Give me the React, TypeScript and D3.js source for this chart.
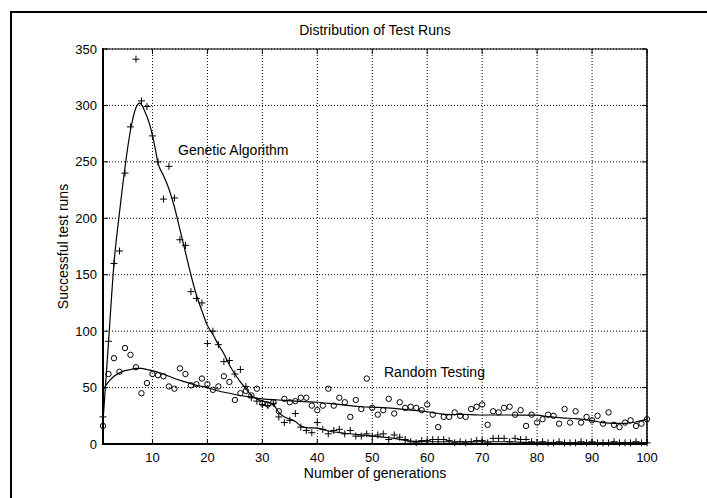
import React from "react";
import * as d3 from "d3";

const width = 707;
const height = 498;
const plot = { left: 103, right: 647, top: 49, bottom: 444 };
const font = "'Liberation Sans', Arial, sans-serif";

// successful test runs per generation (1..100)
const gaRuns = [
  24, 91, 160, 171, 240, 281, 341, 304, 299, 273,
  250, 217, 246, 218, 181, 176, 135, 129, 125, 89,
  100, 88, 73, 74, 62, 66, 51, 41, 38, 35,
  34, 36, 24, 19, 21, 27, 15, 12, 10, 19,
  13, 9, 12, 13, 9, 12, 7, 7, 9, 7,
  8, 9, 4, 8, 6, 4, 2, 1, 3, 3,
  4, 4, 4, 3, 1, 2, 1, 2, 3, 3,
  1, 5, 5, 5, 2, 5, 4, 4, 2, 1,
  2, 1, 1, 2, 1, 1, 1, 2, 1, 2,
  1, 1, 1, 2, 1, 1, 1, 2, 1, 1
];
const rtRuns = [
  16, 62, 76, 64, 85, 79, 68, 45, 54, 62,
  61, 60, 51, 49, 67, 62, 52, 53, 58, 53,
  48, 51, 60, 55, 39, 45, 47, 43, 49, 36,
  35, 37, 29, 40, 37, 38, 41, 41, 34, 30,
  34, 49, 34, 41, 37, 24, 39, 31, 58, 32,
  26, 30, 40, 27, 37, 32, 33, 32, 30, 35,
  26, 15, 24, 24, 28, 25, 24, 31, 33, 35,
  17, 29, 28, 32, 33, 26, 30, 16, 26, 19,
  22, 26, 25, 18, 31, 19, 29, 19, 24, 21,
  25, 18, 28, 17, 15, 19, 21, 16, 18, 22
];
const generations = d3.range(1, rtRuns.length + 1);

// fitted curves
const gaFitX = [1, 2, 3, 4, 5, 6, 7, 7.7, 8.5, 9.5, 10.5, 11, 12, 13, 14, 15, 16, 17, 18, 19, 20, 21, 22, 23, 24, 25, 26, 27, 28, 29, 30, 31, 32, 33, 34, 35, 36, 37, 38, 40, 42, 45, 48, 51, 54, 57, 60, 65, 70, 75, 80, 90, 100];
const gaFitY = [20, 90, 160, 205, 245, 278, 298, 302, 296, 283, 262, 249, 238, 226, 210, 190, 170, 150, 132, 118, 105, 97, 88, 80, 70, 62, 55, 49, 43, 40, 38, 37, 35, 28, 24, 22, 20, 16, 14.5, 14, 11.5, 9.5, 8, 6.5, 5, 2.5, 2, 2, 2, 2, 1, 1, 1];
const rtFitX = [1, 2, 3, 4, 5, 6, 7, 8, 9, 10, 12, 14, 16, 18, 20, 22, 24, 26, 28, 30, 33, 36, 40, 42, 45, 48, 51, 54, 57, 60, 62, 64, 66, 68, 70, 75, 80, 82, 85, 87, 90, 92, 94, 96, 98, 100];
const rtFitY = [48, 55, 60, 63, 65, 66, 67, 67, 66, 65, 62, 58, 55, 52, 50, 47, 45, 43, 41.5, 40, 39, 38, 37, 36, 34.5, 33, 32.5, 31.6, 30, 28.6, 27, 26, 26.3, 26, 25.7, 25.7, 25.5, 24.2, 23, 22.5, 20.7, 19, 18.3, 18.3, 19.5, 22];

const xTicks = [10, 20, 30, 40, 50, 60, 70, 80, 90, 100];
const yTicks = [0, 50, 100, 150, 200, 250, 300, 350];

export default function App() {
  const x = d3.scaleLinear().domain([1, 100]).range([plot.left, plot.right]);
  const y = d3.scaleLinear().domain([0, 350]).range([plot.bottom, plot.top]);
  const line = d3
    .line<[number, number]>()
    .x((d) => x(d[0]))
    .y((d) => y(d[1]))
    .curve(d3.curveMonotoneX);
  const gaPath = line(gaFitX.map((v, i) => [v, gaFitY[i]]));
  const rtPath = line(rtFitX.map((v, i) => [v, rtFitY[i]]));
  const arm = 3.5;

  return (
    <svg
      width={width}
      height={height}
      style={{ position: "absolute", left: 0, top: 0, background: "#fff" }}
      fontFamily={font}
    >
      <path d={`M11,${height} V12 H${width}`} fill="none" stroke="#000" strokeWidth={2} />

      {/* grid */}
      {xTicks.map((t) => (
        <line key={"gx" + t} x1={x(t)} x2={x(t)} y1={plot.top} y2={plot.bottom} stroke="#000" strokeWidth={1} strokeDasharray="1 2" />
      ))}
      {yTicks.map((t) => (
        <line key={"gy" + t} x1={plot.left} x2={plot.right} y1={y(t)} y2={y(t)} stroke="#000" strokeWidth={1} strokeDasharray="1 2" />
      ))}

      {/* fitted curves */}
      <path d={gaPath || ""} fill="none" stroke="#000" strokeWidth={1.2} />
      <path d={rtPath || ""} fill="none" stroke="#000" strokeWidth={1.2} />

      {/* markers */}
      {generations.map((g, i) => (
        <path
          key={"ga" + g}
          d={`M${x(g) - arm},${y(gaRuns[i])}h${arm * 2}M${x(g)},${y(gaRuns[i]) - arm}v${arm * 2}`}
          stroke="#000"
          strokeWidth={1}
        />
      ))}
      {generations.map((g, i) => (
        <circle key={"rt" + g} cx={x(g)} cy={y(rtRuns[i])} r={2.7} fill="none" stroke="#000" strokeWidth={1} />
      ))}

      {/* axes box */}
      <line x1={plot.left} x2={plot.right} y1={plot.top} y2={plot.top} stroke="#000" strokeWidth={1} />
      <line x1={plot.right} x2={plot.right} y1={plot.top} y2={plot.bottom} stroke="#000" strokeWidth={1.5} />
      <line x1={plot.left} x2={plot.left} y1={plot.top - 1} y2={plot.bottom + 1} stroke="#000" strokeWidth={2} />
      <line x1={plot.left - 1} x2={plot.right} y1={plot.bottom} y2={plot.bottom} stroke="#000" strokeWidth={2} />
      {xTicks.map((t) => (
        <g key={"tx" + t}>
          <line x1={x(t)} x2={x(t)} y1={plot.bottom} y2={plot.bottom - 5} stroke="#000" />
          <line x1={x(t)} x2={x(t)} y1={plot.top} y2={plot.top + 5} stroke="#000" />
          <text x={x(t)} y={plot.bottom + 18} fontSize={13} textAnchor="middle">{t}</text>
        </g>
      ))}
      {yTicks.map((t) => (
        <g key={"ty" + t}>
          <line x1={plot.left} x2={plot.left + 5} y1={y(t)} y2={y(t)} stroke="#000" />
          <line x1={plot.right} x2={plot.right - 5} y1={y(t)} y2={y(t)} stroke="#000" />
          <text x={plot.left - 6} y={y(t) + 4.5} fontSize={13} textAnchor="end">{t}</text>
        </g>
      ))}

      {/* labels */}
      <text x={375} y={35} fontSize={14} textAnchor="middle">Distribution of Test Runs</text>
      <text x={375} y={478} fontSize={14} textAnchor="middle">Number of generations</text>
      <text transform={`translate(68,${(plot.top + plot.bottom) / 2}) rotate(-90)`} fontSize={14} textAnchor="middle">Successful test runs</text>
      <text x={178} y={155} fontSize={14}>Genetic Algorithm</text>
      <text x={384} y={377} fontSize={14}>Random Testing</text>
    </svg>
  );
}
